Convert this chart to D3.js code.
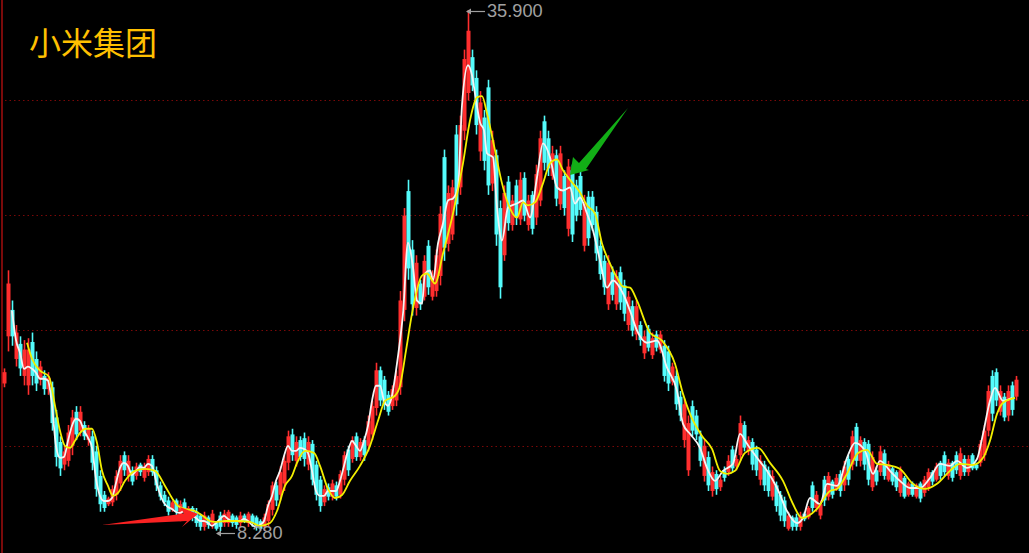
<!DOCTYPE html>
<html>
<head>
<meta charset="utf-8">
<script src="https://cdnjs.cloudflare.com/ajax/libs/d3/7.8.5/d3.min.js"></script>
<style>html,body{margin:0;padding:0;background:#000;overflow:hidden}svg{display:block}</style>
</head>
<body>
<svg id="chart" width="1029" height="553"></svg>
<script>
const stockName = "小米集团";
const gridPrices = [12.79, 18.91, 25.03, 31.15];

const highs = [
16.9,22.1,20.5,19.2,18.6,18.4,18.5,18.8,17.8,17.3,
16.8,16.7,16.2,14.7,13.3,12.8,13.9,14.7,14.9,14.9,
14.1,13.9,13.6,12.8,11.5,10.4,10.1,10.7,11.5,12.3,
12.5,12.3,11.7,11.9,11.9,11.9,12.3,12.3,11.7,10.9,
10.4,10.1,9.9,10.0,9.9,10.0,9.6,9.6,9.5,9.2,
9.3,9.1,9.4,8.8,9.3,9.4,9.4,9.2,9.1,9.3,
9.2,9.3,9.2,9.1,8.9,9.2,9.9,10.9,10.9,11.7,
12.3,13.6,13.7,13.3,13.3,13.5,13.3,13.1,12.0,11.2,
10.7,10.8,11.0,10.9,11.5,12.5,12.8,13.3,13.5,13.2,
13.3,14.4,15.2,17.2,17.0,16.5,15.7,16.0,16.8,21.0,
25.4,26.9,23.7,22.9,21.6,22.9,23.7,22.1,23.2,25.5,
28.5,26.6,26.9,29.8,30.3,33.8,35.9,33.8,32.7,31.6,
30.6,32.2,29.5,28.5,25.8,26.6,27.1,26.1,26.9,27.3,
27.3,26.1,26.3,27.7,29.5,30.3,29.5,28.7,28.5,28.7,
27.4,28.0,27.7,26.9,27.4,26.1,26.3,26.3,25.5,23.7,
22.9,22.9,22.3,22.1,22.3,21.6,21.0,20.5,20.5,19.4,
18.9,19.2,18.8,18.9,18.9,18.4,18.1,17.2,16.8,15.7,
15.3,14.4,15.2,14.7,13.6,13.1,12.5,11.7,11.5,11.2,
11.7,12.3,12.8,12.3,14.4,14.1,13.3,13.2,12.8,12.3,
12.0,11.7,11.5,10.9,10.4,10.1,9.3,9.1,9.2,9.3,
9.3,9.6,10.9,10.4,9.9,11.2,11.4,11.0,11.3,11.5,
12.0,12.3,13.6,14.0,13.3,13.2,13.1,12.5,11.7,12.8,
12.6,12.0,11.7,11.5,11.7,11.2,10.9,10.9,10.8,10.9,
11.2,11.6,11.5,11.9,12.0,12.5,12.1,12.0,12.5,12.7,
12.3,12.3,12.4,11.9,13.1,13.9,16.0,16.8,16.9,16.0,
15.6,16.0,16.2,16.5];

const lows = [
15.9,17.8,18.1,17.0,16.5,16.0,15.5,16.0,15.7,16.0,
15.5,15.5,13.6,11.7,11.2,11.5,11.7,12.3,13.1,13.3,
13.1,12.8,11.5,10.1,9.3,9.3,9.6,9.6,9.9,10.4,
11.2,10.9,10.7,11.0,11.2,10.9,11.2,11.2,10.4,9.9,
9.6,9.1,9.3,9.1,8.8,9.1,8.9,8.8,8.5,8.3,
8.3,8.4,8.4,8.3,8.28,8.5,8.5,8.5,8.4,8.5,
8.7,8.5,8.5,8.3,8.3,8.3,8.5,9.1,9.6,9.9,
10.4,11.5,12.0,11.7,12.0,11.7,11.5,10.7,9.9,9.3,
9.6,9.9,9.9,9.9,10.0,10.7,11.2,11.9,12.0,12.0,
12.0,12.5,13.1,14.4,14.9,14.7,14.4,14.7,14.9,15.5,
19.4,21.6,19.7,19.7,20.0,20.5,20.8,20.5,20.7,21.3,
22.6,23.1,23.7,25.0,26.1,29.0,31.1,31.6,29.3,27.9,
27.4,26.1,26.3,23.4,20.6,22.6,24.2,24.2,24.5,24.5,
24.7,24.2,24.0,24.5,25.5,27.4,27.1,26.9,25.5,25.3,
25.0,23.9,23.6,24.7,25.0,23.1,23.4,24.2,22.6,21.6,
20.8,20.0,20.5,20.0,20.0,19.4,18.9,18.6,18.4,18.1,
17.4,17.8,17.4,17.8,17.7,16.2,15.7,16.0,14.7,14.1,
12.7,11.2,13.3,13.1,11.7,10.9,10.4,10.1,10.2,10.4,
10.9,11.2,11.4,11.5,12.0,12.5,12.3,11.5,11.2,10.7,
10.4,10.1,9.9,9.3,8.8,8.5,8.3,8.3,8.3,8.3,
8.8,8.9,9.3,9.3,8.9,9.6,9.9,10.0,10.4,10.1,
10.4,10.7,11.5,11.7,11.7,11.5,10.7,10.4,10.7,11.2,
11.0,10.9,10.7,10.4,10.1,10.0,10.1,10.1,10.0,9.8,
10.1,10.4,10.7,10.9,11.0,11.2,11.0,10.9,11.3,11.0,
11.2,11.2,11.5,11.5,11.7,12.0,13.3,14.1,14.9,14.4,
14.1,14.1,14.4,15.2];

const opens = [
16.1,18.6,20.0,17.4,18.2,16.5,16.0,18.3,17.4,16.3,
16.5,15.8,15.9,14.3,13.0,11.8,12.0,12.8,14.6,13.6,
13.9,13.1,13.3,12.5,11.2,10.2,9.7,9.8,10.2,10.8,
12.3,11.2,11.5,11.2,11.8,11.1,11.4,12.1,11.5,10.7,
10.2,9.9,9.4,9.9,9.0,9.8,9.0,9.5,9.3,9.1,
8.5,9.0,8.6,8.7,9.1,8.7,8.7,9.1,9.0,8.7,
9.1,8.7,9.1,9.0,8.8,8.5,8.8,9.4,10.7,10.2,
10.8,11.9,13.4,12.0,13.1,13.2,11.8,12.9,11.8,11.0,
9.8,10.6,10.1,10.7,10.2,11.0,12.6,12.1,13.3,12.2,
13.1,12.8,13.4,14.8,16.8,16.3,15.5,14.9,15.2,15.9,
20.0,26.3,23.2,20.1,21.4,20.7,23.4,20.7,21.0,21.8,
28.1,23.5,24.0,29.3,26.5,29.5,31.5,33.4,32.3,28.4,
30.2,31.8,26.7,28.2,25.4,22.9,26.8,24.5,26.6,24.8,
27.0,24.5,26.1,24.9,25.8,30.0,29.1,27.1,28.2,25.6,
27.1,24.3,27.4,26.6,27.1,23.4,26.0,26.0,25.2,23.4,
22.6,20.3,22.0,20.3,22.0,21.3,19.2,20.2,18.7,19.2,
17.7,19.0,17.6,18.7,17.9,18.1,17.8,16.2,16.5,15.4,
13.1,11.5,14.9,14.4,13.3,11.2,12.2,10.4,11.3,10.6,
11.5,11.4,12.6,11.7,12.3,13.9,12.5,13.0,12.6,11.0,
11.8,11.5,10.1,10.7,10.2,9.9,8.4,9.0,9.0,8.5,
9.2,9.0,10.7,9.5,9.1,11.0,10.1,10.9,10.5,11.3,
10.7,12.1,11.8,13.8,12.0,13.0,12.9,10.6,11.5,11.4,
12.4,11.0,11.6,11.4,10.3,11.1,10.2,10.8,10.1,10.8,
10.3,10.6,11.4,11.0,11.9,12.3,11.2,11.9,12.3,11.2,
12.1,11.4,12.3,11.8,11.9,12.3,13.6,16.5,16.7,14.6,
15.4,14.4,16.0,15.4];

const closes = [
16.7,21.4,18.6,18.8,16.9,17.9,17.9,16.5,16.1,17.0,
15.8,16.4,14.0,12.2,11.6,12.5,13.5,14.3,13.4,14.6,
13.3,13.7,11.9,10.5,9.7,9.5,10.0,10.5,11.2,12.0,
11.5,12.0,10.9,11.7,11.4,11.7,12.1,11.4,10.7,10.1,
9.8,9.3,9.8,9.3,9.7,9.3,9.5,9.0,8.7,8.5,
9.1,8.6,9.2,8.4,8.5,9.2,9.3,8.7,8.6,9.1,
8.8,9.2,8.7,8.5,8.4,9.0,9.7,10.7,9.9,11.4,
12.0,13.3,12.3,13.0,12.2,12.1,13.0,11.0,10.2,9.6,
10.5,10.1,10.8,10.1,11.3,12.3,11.5,13.1,12.2,13.0,
12.3,14.1,14.9,16.8,15.2,15.0,14.6,15.8,16.5,20.5,
25.0,22.2,20.3,22.5,20.3,22.6,21.2,21.8,22.9,25.1,
23.3,26.2,26.5,25.6,29.8,33.3,34.8,31.9,29.8,31.0,
27.9,26.6,29.0,24.0,21.2,26.2,24.6,25.8,24.9,26.9,
25.0,25.8,24.3,27.2,29.1,27.8,27.5,28.3,25.9,28.3,
25.4,27.6,24.0,25.0,25.3,25.7,23.8,24.5,23.0,21.9,
21.2,22.5,20.8,21.8,20.4,19.8,20.7,18.9,20.2,18.4,
18.6,18.0,18.5,18.0,18.7,16.5,16.1,17.0,15.0,14.4,
15.0,14.0,13.6,13.4,12.0,12.8,10.7,11.4,10.5,11.0,
11.1,12.0,11.6,12.1,14.0,12.7,13.1,11.8,11.5,12.0,
10.7,10.4,11.2,9.6,9.1,8.8,9.1,8.5,8.5,9.1,
8.9,9.5,9.5,10.2,9.7,9.9,11.2,10.2,11.1,10.4,
11.7,11.0,13.3,12.0,13.1,11.8,11.0,12.2,10.9,12.5,
11.2,11.8,10.9,10.6,11.5,10.1,10.8,10.2,10.7,10.0,
11.0,11.4,10.9,11.7,11.2,11.4,11.9,11.1,11.5,12.4,
11.4,12.1,11.6,11.6,12.9,13.6,15.7,14.5,15.2,15.7,
14.3,15.7,14.7,16.3];

const whiteDays = [2,3,4,5,6,7,8,9,10,11,12,13,14,15,16,17,18,19,20,21,22,23,24,25,26,27,28,29,30,31,32,33,34,35,36,37,38,39,40,41,42,43,44,45,46,47,48,49,50,51,52,53,54,55,56,57,58,59,60,61,62,63,64,65,66,67,68,69,70,71,72,73,74,75,76,77,78,79,80,81,82,83,84,85,86,87,88,89,90,91,92,93,94,95,96,97,98,99,99.75,101,102.25,103.25,104.5,105.25,106.5,107.25,108.5,109.75,111,112.25,113.5,114.5,116,117,118,119,120,120.75,122.25,123.25,124.5,126,128.25,129.75,131.5,133.25,134.75,136.5,138.25,139.75,141.5,142.75,144,145.75,147.25,149,150.75,152.25,154.75,156.5,158.25,160.75,163.25,165.75,168.25,169.75,171.5,174,175.75,177.75,179.75,182.25,184,185.75,188.25,190.75,193.25,195.75,198.25,199.75,201.5,204,205.75,208.25,210.75,212.75,215.25,217.25,219,221.5,224,226.5,229,231.5,234,236.5,238.25,240.75,243.25,244.75,246.5,247.75,249.75,252];
const whiteValues = [19.96,18.4,17.73,16.88,16.99,16.88,16.67,16.35,16.35,16.25,14.92,12.79,12.16,12.21,13.06,13.86,14.23,14.12,13.59,13.22,12.69,11.04,10.14,9.87,9.87,10.03,10.83,11.63,11.89,11.73,11.25,11.47,11.68,11.63,11.84,11.73,10.94,10.24,9.77,9.55,9.45,9.29,9.24,9.34,9.34,9.13,8.97,8.81,8.81,8.70,8.55,8.70,8.92,9.08,8.92,8.81,8.81,8.81,8.92,8.81,8.60,8.49,8.60,8.81,9.61,10.14,10.94,11.47,12.26,12.79,12.53,12.53,12.69,12.63,12.42,11.47,10.40,10.14,10.14,10.40,10.40,10.40,10.94,11.73,12.53,13.06,12.79,12.53,13.06,13.86,15.18,15.98,15.98,15.18,14.92,15.45,16.78,18.37,19.80,23.57,22.25,20.49,20.33,21.93,22.09,21.56,23.52,24.58,25.80,25.91,26.49,30.85,32.97,32.44,31.11,29.94,29.52,28.30,28.09,25.43,23.68,25.43,25.64,25.80,24.90,27.02,28.83,28.09,26.49,26.33,26.49,25.64,25.96,25.11,24.21,22.62,21.18,21.56,20.87,19.96,18.90,18.26,18.37,16.94,15.71,13.96,13.43,12.69,11.63,10.94,11.47,11.84,13.43,12.90,12.16,11.47,10.56,9.34,8.70,8.97,10.03,9.71,10.78,10.67,12.16,12.95,12.53,11.31,12.0,11.47,10.94,10.56,10.56,11.09,11.84,11.73,12.0,11.63,12.10,13.43,15.18,15.87,15.18,15.34];

const yellowDays = [5.75,7,9,11.25,12.75,14,15.25,16.5,17.75,19,20.5,22,23.25,24.5,26,27.25,28.5,30.25,32.75,35.25,37.75,40.25,42,43.5,45.25,47.75,49.75,51.5,53.5,55.25,57.75,61.5,64,66.5,68.25,70.25,72,73.25,75.25,77.5,79,81,82.75,84.5,86.5,89,91.5,93.5,95.25,97.75,99,100.5,102,104.5,105.75,107.75,109.75,112.25,114.75,116.5,118.25,119.5,120.75,122.75,124.5,126,128.25,129.75,131,132.75,134.75,136.5,138.25,139.75,142,144,145.75,147.75,149.5,151.5,153.25,154.75,156.5,158.25,161.5,164.5,167.75,169.75,171.5,174.5,177,179,180.75,182.75,185.25,188.5,191.5,194.75,197.25,199.5,203.25,206.5,208.25,210.75,213.5,215.75,218.25,220.75,224,227.25,230.25,233.25,236.5,239,242.25,244.75,246.5,248.25,249.75,252.75];
const yellowValues = [18.26,17.41,16.78,16.46,14.92,13.59,12.79,12.69,13.06,13.48,13.70,13.70,12.95,11.47,10.67,10.14,10.30,10.94,11.47,11.57,11.47,10.67,10.03,9.61,9.45,9.34,9.08,8.81,8.76,8.81,8.81,8.76,8.55,8.70,9.34,10.67,11.20,11.89,12.53,12.42,11.73,10.51,10.03,10.19,10.94,11.73,12.79,14.12,15.18,15.45,15.98,17.84,19.80,21.82,21.93,21.40,22.99,25.11,27.77,30.05,31.27,31.33,30.42,28.46,26.71,25.64,24.90,25.70,25.54,25.70,26.71,27.77,27.98,27.40,26.76,26.23,25.54,25.11,23.52,22.46,21.71,21.24,21.18,20.49,18.79,18.37,17.15,15.55,14.49,13.32,12.63,11.47,11.31,11.47,12.42,12.69,11.89,10.94,9.71,8.97,9.45,10.40,10.51,11.31,12.42,12.58,11.84,11.78,11.57,10.78,10.51,10.78,11.47,11.84,11.78,12.16,13.06,14.49,15.08,15.34];

const W = 1029, H = 553;
const RED = "#ff2e2e", CYAN = "#54fcfc";
const svg = d3.select("#chart");
svg.append("rect").attr("width", W).attr("height", H).attr("fill", "#000");

const x = d3.scaleLinear().domain([0, highs.length - 1]).range([4, 1016]);
const y = d3.scaleLinear().domain([d3.min(lows), d3.max(highs)]).range([531, 10]);

svg.append("line").attr("x1", 2).attr("x2", 2).attr("y1", 0).attr("y2", H)
   .attr("stroke", "#7a0a0a").attr("stroke-width", 2);

svg.append("g").selectAll("line").data(gridPrices).join("line")
   .attr("x1", 5).attr("x2", W)
   .attr("y1", d => Math.round(y(d)) + 0.5).attr("y2", d => Math.round(y(d)) + 0.5)
   .attr("stroke", "#7a0808").attr("stroke-width", 1).attr("stroke-dasharray", "1.5 3");

const candles = svg.append("g");
const col = i => closes[i] >= opens[i] ? RED : CYAN;
candles.selectAll("line").data(highs).join("line")
   .attr("x1", (d, i) => Math.round(x(i)) + 0.5).attr("x2", (d, i) => Math.round(x(i)) + 0.5)
   .attr("y1", (d, i) => y(highs[i])).attr("y2", (d, i) => y(lows[i]))
   .attr("stroke", (d, i) => col(i)).attr("stroke-width", 1.6);
candles.selectAll("rect").data(highs).join("rect")
   .attr("x", (d, i) => Math.round(x(i)) - 1.5).attr("width", 4)
   .attr("y", (d, i) => y(Math.max(opens[i], closes[i])))
   .attr("height", (d, i) => Math.max(1, Math.abs(y(opens[i]) - y(closes[i]))))
   .attr("fill", (d, i) => col(i));

const pathFor = (days, vals) => d3.line().x((d, i) => x(days[i])).y(d => y(d)).curve(d3.curveMonotoneX)(vals);
svg.append("path").attr("d", pathFor(whiteDays, whiteValues))
   .attr("fill", "none").attr("stroke", "#f4f4f4").attr("stroke-width", 1.8);
svg.append("path").attr("d", pathFor(yellowDays, yellowValues))
   .attr("fill", "none").attr("stroke", "#f2ee00").attr("stroke-width", 1.8);

// hand-drawn annotation arrows
svg.append("polygon")
   .attr("points", "102,525 184,513.5 180,507 198,514 182,527 187,521")
   .attr("fill", "#fa2222");
svg.append("polygon")
   .attr("points", "628,108 579,163 573,157 570,175 589,170 586,169")
   .attr("fill", "#12ae16");

// extreme price labels
const hiMax = d3.max(highs), loMin = d3.min(lows);
const hiI = highs.indexOf(hiMax), loI = lows.indexOf(loMin);
const GREY = "#a0a0a0";
function extreme(px, py, value) {
  svg.append("line").attr("x1", px).attr("x2", px + 18).attr("y1", py + 0.5).attr("y2", py + 0.5)
     .attr("stroke", GREY).attr("stroke-width", 1.2);
  svg.append("path").attr("d", `M${px - 1},${py + 0.5}L${px + 4},${py - 2.5}L${px + 4},${py + 3.5}Z`).attr("fill", GREY);
  svg.append("text").attr("x", px + 20).attr("y", py + 6)
     .attr("font-family", "'Liberation Sans', Arial, sans-serif").attr("font-size", 18.2)
     .attr("fill", GREY).text(value.toFixed(3));
}
extreme(x(hiI) - 1, Math.round(y(hiMax)) + 1, hiMax);
extreme(x(loI) - 3, Math.round(y(loMin)) + 2, loMin);

svg.append("text").attr("x", 29).attr("y", 55)
   .attr("font-family", "'Noto Sans CJK SC', sans-serif").attr("font-size", 32)
   .attr("fill", "#ffc000").text(stockName);
</script>
</body>
</html>
